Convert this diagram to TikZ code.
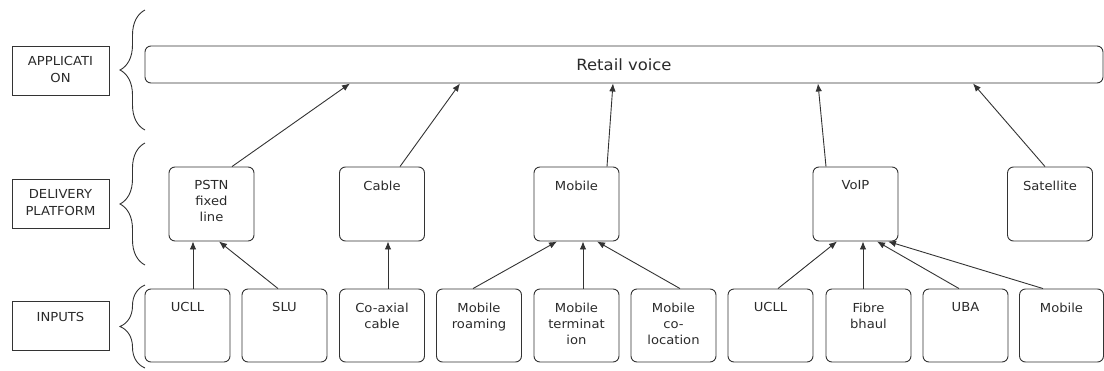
\documentclass[tikz,border=0pt]{standalone}
\usepackage{fontspec}
\setmainfont{DejaVu Sans}[FakeStretch=1.06]
\usetikzlibrary{arrows.meta,decorations.pathreplacing}
\definecolor{ln}{HTML}{333333}
\definecolor{tx}{HTML}{2A2A2A}
\newcommand{\boxfont}{\fontsize{12.4}{16}\selectfont}
\newcommand{\labfont}{\fontsize{12.4}{17}\selectfont}
\begin{document}
\begin{tikzpicture}[x=1pt,y=-1pt,
  box/.style={draw=ln, line width=0.9pt, rounded corners=6pt, minimum width=85pt, minimum height=74pt, inner sep=0pt},
  tt/.style={label={[font=\boxfont, text=tx, align=center, inner sep=0pt, anchor=north, yshift=-14pt]north:{#1}}},
  lab/.style={draw=ln, line width=0.9pt, minimum width=97pt, minimum height=49pt, inner sep=0pt,
     label={[font=\labfont, text=tx, align=center, inner sep=0pt, anchor=north, yshift=-11pt]north:{#1}}},
  arr/.style={draw=ln, line width=0.9pt, -{Latex[length=8pt,width=6.5pt]}},
  brc/.style={draw=ln, line width=0.9pt, decorate, decoration={brace, amplitude=25pt}}]
\useasboundingbox (0,0) rectangle (1104,370);

% layer labels
\node[lab={APPLICATI\\ON}] (lapp) at (60.5,70.5) {};
\node[lab={DELIVERY\\PLATFORM}] (ldel) at (60.5,203.5) {};
\node[lab={INPUTS}] (linp) at (60.5,326) {};

% braces
\draw[brc] (145,130) -- (145,10);
\draw[brc] (145,265) -- (145,143);
\draw[brc] (145,368) -- (145,285);

% application
\node[draw=ln, line width=0.9pt, rounded corners=6pt, minimum width=958pt, minimum height=37pt, inner sep=0pt,
      font=\fontsize{15.5}{18}\selectfont, text=tx] (retail) at (624,64.5) {Retail voice};

% delivery platforms
\node[box, tt={PSTN\\fixed\\line}] (pstn) at (211.5,204) {};
\node[box, tt={Cable}] (cable) at (382,204) {};
\node[box, tt={Mobile}] (mobile) at (576.5,204) {};
\node[box, tt={VoIP}] (voip) at (855.5,204) {};
\node[box, tt={Satellite}] (sat) at (1050,204) {};

% inputs
\node[box, minimum height=73pt, tt={UCLL}] (ucll) at (187.5,325.5) {};
\node[box, minimum height=73pt, tt={SLU}] (slu) at (284.5,325.5) {};
\node[box, minimum height=73pt, tt={Co-axial\\cable}] (coax) at (382,325.5) {};
\node[box, minimum height=73pt, tt={Mobile\\roaming}] (roam) at (479,325.5) {};
\node[box, minimum height=73pt, tt={Mobile\\terminat\\ion}] (term) at (576.5,325.5) {};
\node[box, minimum height=73pt, tt={Mobile\\co-\\location}] (coloc) at (673.5,325.5) {};
\node[box, minimum height=73pt, tt={UCLL}] (ucllb) at (770.5,325.5) {};
\node[box, minimum height=73pt, tt={Fibre\\bhaul}] (fibre) at (868.5,325.5) {};
\node[box, minimum height=73pt, tt={UBA}] (uba) at (965.5,325.5) {};
\node[box, minimum height=73pt, minimum width=84pt, tt={Mobile}] (mobin) at (1061.5,325.5) {};

% delivery -> application
\draw[arr] ([xshift=20.5pt]pstn.north) -- ([xshift=-274pt]retail.south);
\draw[arr] ([xshift=18pt]cable.north) -- ([xshift=-164pt]retail.south);
\draw[arr] ([xshift=30.5pt]mobile.north) -- ([xshift=-11pt]retail.south);
\draw[arr] ([xshift=-29.5pt]voip.north) -- ([xshift=194pt]retail.south);
\draw[arr] ([xshift=-5pt]sat.north) -- ([xshift=349pt]retail.south);

% inputs -> delivery
\draw[arr] ([xshift=5.5pt]ucll.north) -- ([xshift=-18.5pt]pstn.south);
\draw[arr] ([xshift=-6.5pt]slu.north) -- ([xshift=7.5pt]pstn.south);
\draw[arr] ([xshift=6pt]coax.north) -- ([xshift=6pt]cable.south);
\draw[arr] ([xshift=-6pt]roam.north) -- ([xshift=-19.5pt]mobile.south);
\draw[arr] ([xshift=6.5pt]term.north) -- ([xshift=6.5pt]mobile.south);
\draw[arr] ([xshift=6.5pt]coloc.north) -- ([xshift=20.5pt]mobile.south);
\draw[arr] ([xshift=7.5pt]ucllb.north) -- ([xshift=-18.5pt]voip.south);
\draw[arr] ([xshift=-5.5pt]fibre.north) -- ([xshift=7.5pt]voip.south);
\draw[arr] ([xshift=-6.5pt]uba.north) -- ([xshift=21.5pt]voip.south);
\draw[arr] ([xshift=-18.5pt]mobin.north) -- ([xshift=32.5pt]voip.south);
\end{tikzpicture}
\end{document}
